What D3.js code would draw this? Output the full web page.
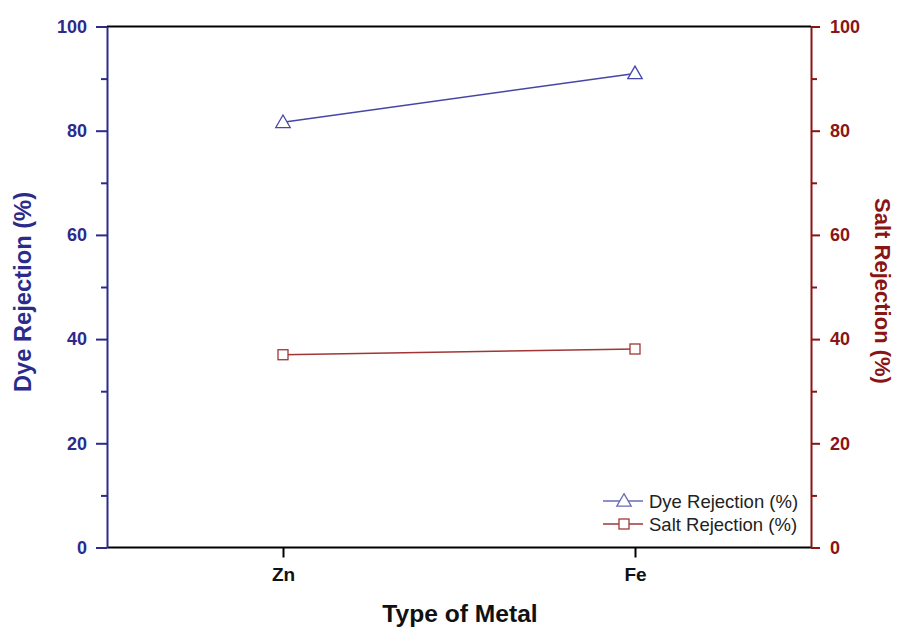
<!DOCTYPE html>
<html>
<head>
<meta charset="utf-8">
<script src="https://cdn.jsdelivr.net/npm/d3@7"></script>
<style>
  html, body { margin: 0; padding: 0; background: #fff; }
  svg { display: block; font-family: "Liberation Sans", Arial, sans-serif; }
</style>
</head>
<body>
<svg id="chart" width="904" height="628"></svg>
<script>
// Rejection performance by metal type
const metals = ["Zn", "Fe"];
const dyeRejection = [81.6, 91.0];
const saltRejection = [37.0, 38.1];
const yTicks = [0, 20, 40, 60, 80, 100];
const yMinorTicks = [10, 30, 50, 70, 90];

const blue = "#2b2b8c";
const blueLine = "#4646a6";
const red = "#8a1515";
const redLine = "#a03636";
const FONT = "Liberation Sans, Arial, sans-serif";

const svg = d3.select("#chart");
const m = { left: 107, right: 811, top: 26.5, bottom: 547.5 };

const x = d3.scalePoint().domain(metals).range([m.left, m.right]).padding(0.5);
const yL = d3.scaleLinear().domain([0, 100]).range([m.bottom, m.top]);
const yR = d3.scaleLinear().domain([0, 100]).range([m.bottom, m.top]);

// top frame line
svg.append("line")
  .attr("x1", m.left).attr("x2", m.right)
  .attr("y1", m.top).attr("y2", m.top)
  .attr("stroke", "#000").attr("stroke-width", 2);

// bottom axis
const gx = svg.append("g").attr("transform", `translate(0,${m.bottom})`)
  .call(d3.axisBottom(x).tickSize(10).tickPadding(10.5).tickSizeOuter(0));
gx.select(".domain").attr("stroke", "#000").attr("stroke-width", 2)
  .attr("d", `M${m.left},0H${m.right}`);
gx.selectAll(".tick line").attr("stroke", "#000").attr("stroke-width", 2);
gx.selectAll(".tick text").attr("font-size", 19).attr("font-weight", "bold").attr("fill", "#111")
  .attr("font-family", FONT);

function styleAxis(g, color) {
  g.select(".domain").attr("stroke", color).attr("stroke-width", 2);
  g.selectAll(".tick line").attr("stroke", color).attr("stroke-width", 2);
  g.selectAll(".tick text").attr("font-size", 18).attr("font-weight", "bold").attr("fill", color)
    .attr("font-family", FONT);
}

// left axis
const gyL = svg.append("g").attr("transform", `translate(${m.left},0)`)
  .call(d3.axisLeft(yL).tickValues(yTicks).tickSize(11).tickPadding(9).tickSizeOuter(0));
styleAxis(gyL, blue);
const gyLm = svg.append("g").attr("transform", `translate(${m.left},0)`)
  .call(d3.axisLeft(yL).tickValues(yMinorTicks).tickSize(6).tickFormat(""));
gyLm.select(".domain").remove();
gyLm.selectAll(".tick line").attr("stroke", blue).attr("stroke-width", 2);

// right axis
const gyR = svg.append("g").attr("transform", `translate(${m.right},0)`)
  .call(d3.axisRight(yR).tickValues(yTicks).tickSize(9).tickPadding(10).tickSizeOuter(0));
styleAxis(gyR, red);
const gyRm = svg.append("g").attr("transform", `translate(${m.right},0)`)
  .call(d3.axisRight(yR).tickValues(yMinorTicks).tickSize(6).tickFormat(""));
gyRm.select(".domain").remove();
gyRm.selectAll(".tick line").attr("stroke", red).attr("stroke-width", 2);

// axis titles
svg.append("text").attr("transform", `translate(31,292) rotate(-90)`)
  .attr("text-anchor", "middle").attr("font-size", 23.7).attr("font-weight", "bold")
  .attr("fill", blue).text("Dye Rejection (%)");
svg.append("text").attr("transform", `translate(875,291) rotate(90)`)
  .attr("text-anchor", "middle").attr("font-size", 22).attr("font-weight", "bold")
  .attr("fill", red).text("Salt Rejection (%)");
svg.append("text").attr("x", 460).attr("y", 622)
  .attr("text-anchor", "middle").attr("font-size", 24.6).attr("font-weight", "bold")
  .attr("fill", "#111").text("Type of Metal");

// series
const triangle = d3.symbol().type(d3.symbolTriangle).size(90);
function drawMarker(shape, cx, cy, color) {
  if (shape === "triangle") {
    svg.append("path").attr("d", triangle())
      .attr("transform", `translate(${cx},${cy + 1})`)
      .attr("fill", "#fff").attr("stroke", color).attr("stroke-width", 1.3);
  } else {
    svg.append("rect").attr("x", cx - 5).attr("y", cy - 5)
      .attr("width", 10).attr("height", 10)
      .attr("fill", "#fff").attr("stroke", color).attr("stroke-width", 1.3);
  }
}
function drawSeries(values, yScale, color, shape) {
  const pts = metals.map((d, i) => [x(d), yScale(values[i])]);
  svg.append("path").attr("d", d3.line()(pts))
    .attr("fill", "none").attr("stroke", color).attr("stroke-width", 1.5);
  pts.forEach(p => drawMarker(shape, p[0], p[1], color));
}
drawSeries(dyeRejection, yL, blueLine, "triangle");
drawSeries(saltRejection, yR, redLine, "square");

// legend
const legend = [
  { label: "Dye Rejection (%)", color: "#6a6ab8", shape: "triangle", y: 501 },
  { label: "Salt Rejection (%)", color: redLine, shape: "square", y: 524 }
];
legend.forEach(l => {
  svg.append("line").attr("x1", 603).attr("x2", 643).attr("y1", l.y).attr("y2", l.y)
    .attr("stroke", l.color).attr("stroke-width", 1.5);
  drawMarker(l.shape, 624, l.y, l.color);
  svg.append("text").attr("x", 649).attr("y", l.y + 7).attr("font-size", 18.5)
    .attr("fill", "#222").text(l.label);
});
</script>
</body>
</html>
